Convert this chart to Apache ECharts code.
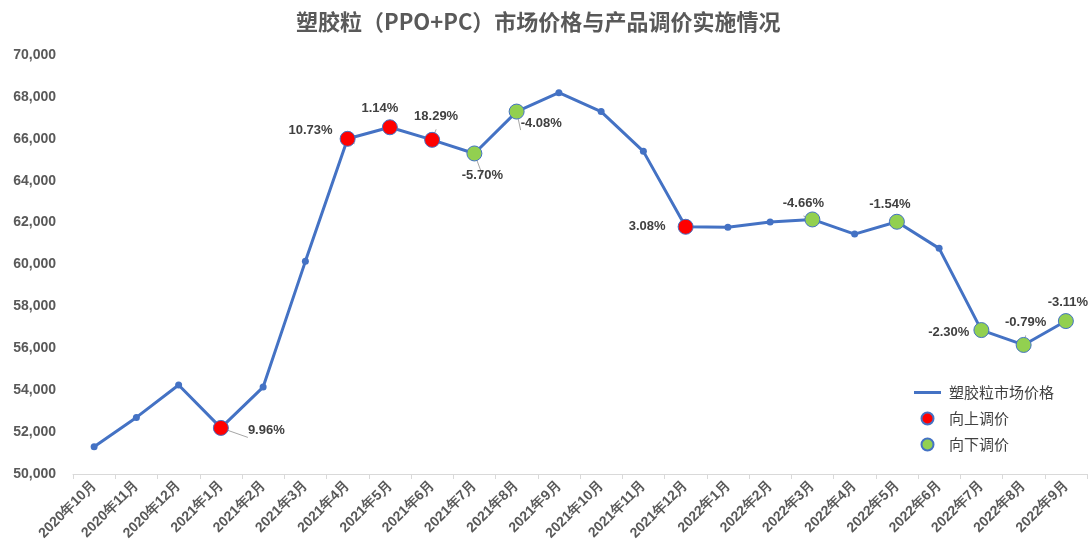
<!DOCTYPE html>
<html>
<head>
<meta charset="utf-8">
<script src="https://cdn.jsdelivr.net/npm/echarts@6/dist/echarts.min.js"></script>
<style>
html,body{margin:0;padding:0;background:#fff;}
#chart{width:1089px;height:544px;}
</style>
</head>
<body>
<div id="chart"></div>
<script>
const categories = ['2020年10月','2020年11月','2020年12月','2021年1月','2021年2月','2021年3月','2021年4月','2021年5月','2021年6月','2021年7月','2021年8月','2021年9月','2021年10月','2021年11月','2021年12月','2022年1月','2022年2月','2022年3月','2022年4月','2022年5月','2022年6月','2022年7月','2022年8月','2022年9月'];
const prices = [51300,52700,54250,52200,54150,60150,66000,66550,65950,65300,67300,68200,67300,65400,61800,61780,62030,62150,61450,62040,60770,56870,56160,57300];
const upMonths = ['2021年1月','2021年4月','2021年5月','2021年6月','2021年12月'];
const upChanges = ['9.96%','10.73%','1.14%','18.29%','3.08%'];
const downMonths = ['2021年7月','2021年8月','2022年3月','2022年5月','2022年7月','2022年8月','2022年9月'];
const downChanges = ['-5.70%','-4.08%','-4.66%','-1.54%','-2.30%','-0.79%','-3.11%'];
const yTicks = {min:50000, max:70000, step:2000};

const seriesNames = ['塑胶粒市场价格','向上调价','向下调价'];

// label placement (style only)
const labelPlace = {
  '2021年1月': {position:'right', distance:19, offset:[0,3]},
  '2021年4月': {position:'left', distance:7, offset:[0,-8]},
  '2021年5月': {position:'top', distance:4, offset:[-10,0]},
  '2021年6月': {position:'top', distance:9, offset:[4,0]},
  '2021年12月': {position:'left', distance:12, offset:[0,0]},
  '2021年7月': {position:'bottom', distance:7, offset:[8,0]},
  '2021年8月': {position:'right', distance:-4, offset:[0,12]},
  '2022年3月': {position:'top', distance:2, offset:[-9,0]},
  '2022年5月': {position:'top', distance:3, offset:[-7,0]},
  '2022年7月': {position:'left', distance:4, offset:[0,2]},
  '2022年8月': {position:'top', distance:8, offset:[2,0]},
  '2022年9月': {position:'top', distance:4, offset:[2,0]}
};

function buildPoints(months, changes){
  return months.map((m,i)=>{
    const p = labelPlace[m] || {position:'top', distance:5, offset:[0,0]};
    return {
      value:[m, prices[categories.indexOf(m)]],
      label:{show:true, formatter:changes[i], position:p.position, distance:p.distance, offset:p.offset}
    };
  });
}

const labelStyle = {color:'#404040', fontSize:13, fontWeight:'bold', fontFamily:'Liberation Sans, Arial, sans-serif'};
const chart = echarts.init(document.getElementById('chart'), null, {renderer:'canvas'});
chart.setOption({
  animation:false,
  backgroundColor:'#ffffff',
  title:{
    text:'塑胶粒（PPO+PC）市场价格与产品调价实施情况',
    left:296, top:11, padding:0,
    textStyle:{fontSize:22, color:'#595959', fontWeight:'bold', fontFamily:'Noto Sans CJK SC'}
  },
  grid:{left:73, right:2, top:55, bottom:70, containLabel:false},
  legend:{
    orient:'vertical', left:914, top:385, padding:0,
    itemWidth:27, itemHeight:12, itemGap:11,
    textStyle:{fontSize:15, color:'#404040', fontFamily:'Noto Sans CJK SC', padding:[0,0,0,3]},
    data:[
      {name:seriesNames[0], icon:'path://M0,0H90V10H0Z'},
      {name:seriesNames[1], icon:'circle'},
      {name:seriesNames[2], icon:'circle'}
    ]
  },
  xAxis:{
    type:'category', data:categories, boundaryGap:true,
    axisLine:{show:true, lineStyle:{color:'#d9d9d9', width:1}},
    axisTick:{show:true, length:5, lineStyle:{color:'#d9d9d9'}},
    axisLabel:{rotate:45, margin:9, color:'#595959', fontSize:14, fontWeight:'bold', fontFamily:'Liberation Sans, Arial, sans-serif', interval:0},
    splitLine:{show:false}
  },
  yAxis:{
    type:'value', min:yTicks.min, max:yTicks.max, interval:yTicks.step,
    axisLine:{show:false}, axisTick:{show:false}, splitLine:{show:false},
    axisLabel:{margin:17, color:'#595959', fontSize:14, fontWeight:'bold', fontFamily:'Liberation Sans, Arial, sans-serif',
      formatter:v=>v.toLocaleString('en-US')}
  },
  series:[
    {
      name:seriesNames[0], type:'line', data:prices,
      symbol:'circle', symbolSize:7, z:2,
      lineStyle:{color:'#4472C4', width:3},
      itemStyle:{color:'#4472C4'}
    },
    {
      name:seriesNames[1], type:'scatter', data:buildPoints(upMonths, upChanges),
      symbol:'circle', symbolSize:15, z:3,
      itemStyle:{color:'#FF0000', borderColor:'#4472C4', borderWidth:1, opacity:1},
      label:labelStyle,
      labelLine:{show:true, lineStyle:{color:'#a6a6a6', width:1}}
    },
    {
      name:seriesNames[2], type:'scatter', data:buildPoints(downMonths, downChanges),
      symbol:'circle', symbolSize:15, z:3,
      itemStyle:{color:'#92D050', borderColor:'#4472C4', borderWidth:1, opacity:1},
      label:labelStyle,
      labelLine:{show:true, lineStyle:{color:'#a6a6a6', width:1}}
    }
  ]
});
</script>
</body>
</html>
